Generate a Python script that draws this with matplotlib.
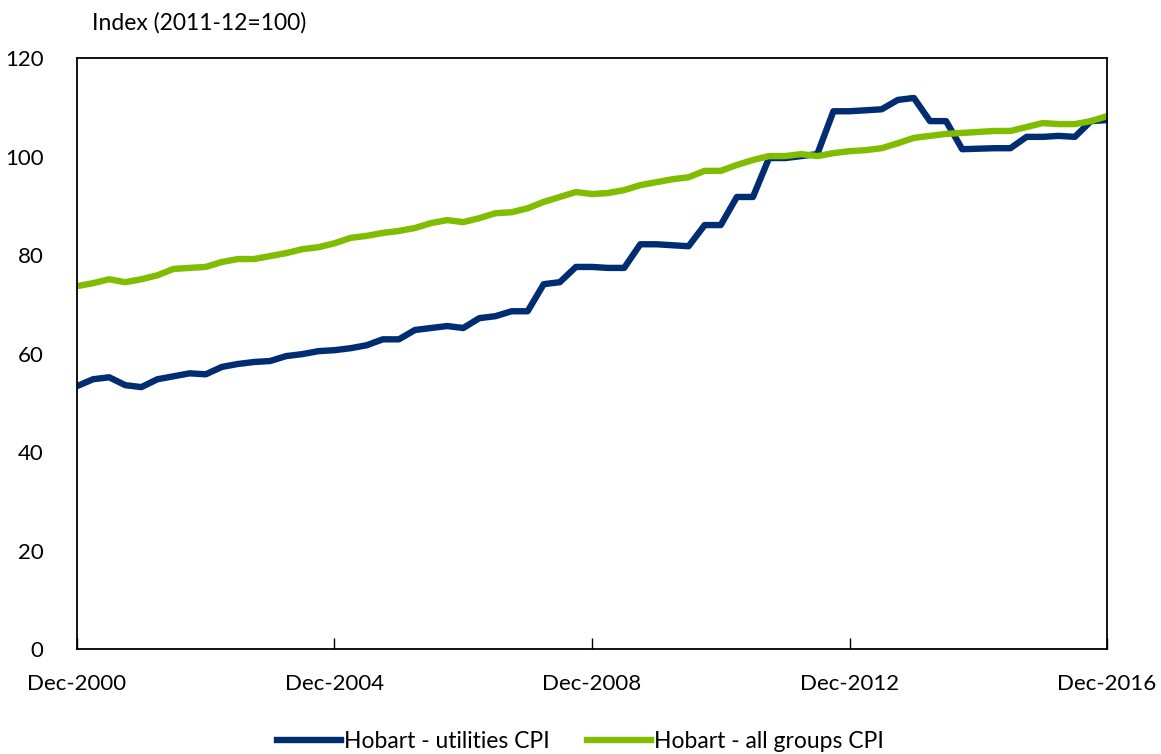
import matplotlib
matplotlib.use("Agg")
from matplotlib import pyplot as plt

# quarterly, Dec-2000 .. Dec-2016
tick_labels = ["Dec-2000", "Dec-2004", "Dec-2008", "Dec-2012", "Dec-2016"]

utilities_cpi = [
    53.4, 54.8, 55.2, 53.6, 53.2, 54.8, 55.4, 56.0, 55.8, 57.3,
    57.9, 58.3, 58.5, 59.5, 59.9, 60.5, 60.7, 61.1, 61.7, 62.9,
    62.9, 64.8, 65.2, 65.6, 65.2, 67.2, 67.6, 68.6, 68.6, 74.1,
    74.5, 77.6, 77.6, 77.4, 77.4, 82.2, 82.2, 82.0, 81.8, 86.1,
    86.1, 91.8, 91.8, 99.7, 99.7, 100.1, 100.5, 109.2, 109.2, 109.4,
    109.6, 111.5, 111.9, 107.2, 107.2, 101.5, 101.6, 101.7, 101.7, 104.0,
    104.0, 104.2, 104.0, 107.2, 107.4,
]

all_groups_cpi = [
    73.7, 74.3, 75.1, 74.5, 75.1, 75.9, 77.2, 77.4, 77.6, 78.6,
    79.2, 79.2, 79.8, 80.4, 81.2, 81.6, 82.4, 83.5, 83.9, 84.5,
    84.9, 85.5, 86.5, 87.1, 86.7, 87.5, 88.5, 88.7, 89.5, 90.8,
    91.8, 92.8, 92.4, 92.6, 93.2, 94.2, 94.8, 95.4, 95.8, 97.1,
    97.1, 98.3, 99.3, 100.1, 100.1, 100.5, 100.1, 100.7, 101.1, 101.3,
    101.7, 102.7, 103.8, 104.2, 104.6, 104.8, 105.0, 105.2, 105.2, 106.0,
    106.8, 106.6, 106.6, 107.2, 108.2,
]

plt.rcParams["font.family"] = ["Lato", "DejaVu Sans"]
plt.rcParams["font.size"] = 16

fig = plt.figure(figsize=(11.61, 7.54), dpi=100)
ax = fig.add_axes([0.0663, 0.139, 0.8872, 0.784])

x = list(range(len(utilities_cpi)))
ax.plot(x, utilities_cpi, color="#002D72", lw=4.6, label="Hobart - utilities CPI")
ax.plot(x, all_groups_cpi, color="#80BC00", lw=4.6, label="Hobart - all groups CPI")

ax.set_xlim(0, len(x) - 1)
ax.set_ylim(0, 120)
ax.set_yticks(range(0, 121, 20))
ax.set_xticks(range(0, len(x), 16))
ax.set_xticklabels(tick_labels)
ax.tick_params(axis="x", direction="in", length=8, width=1, pad=18)
ax.tick_params(axis="y", length=0, pad=24)
for s in ax.spines.values():
    s.set_linewidth(1.3)
    s.set_color("black")

fig.text(0.079, 0.97, "Index (2011-12=100)", ha="left", va="center", fontsize=16.5)

fig.legend(loc="center", bbox_to_anchor=(0.5, 0.016), ncol=2, frameon=False,
           handlelength=2.8, handletextpad=0.15, columnspacing=1.6, fontsize=16.5)

fig.savefig("out.png", dpi=100)
